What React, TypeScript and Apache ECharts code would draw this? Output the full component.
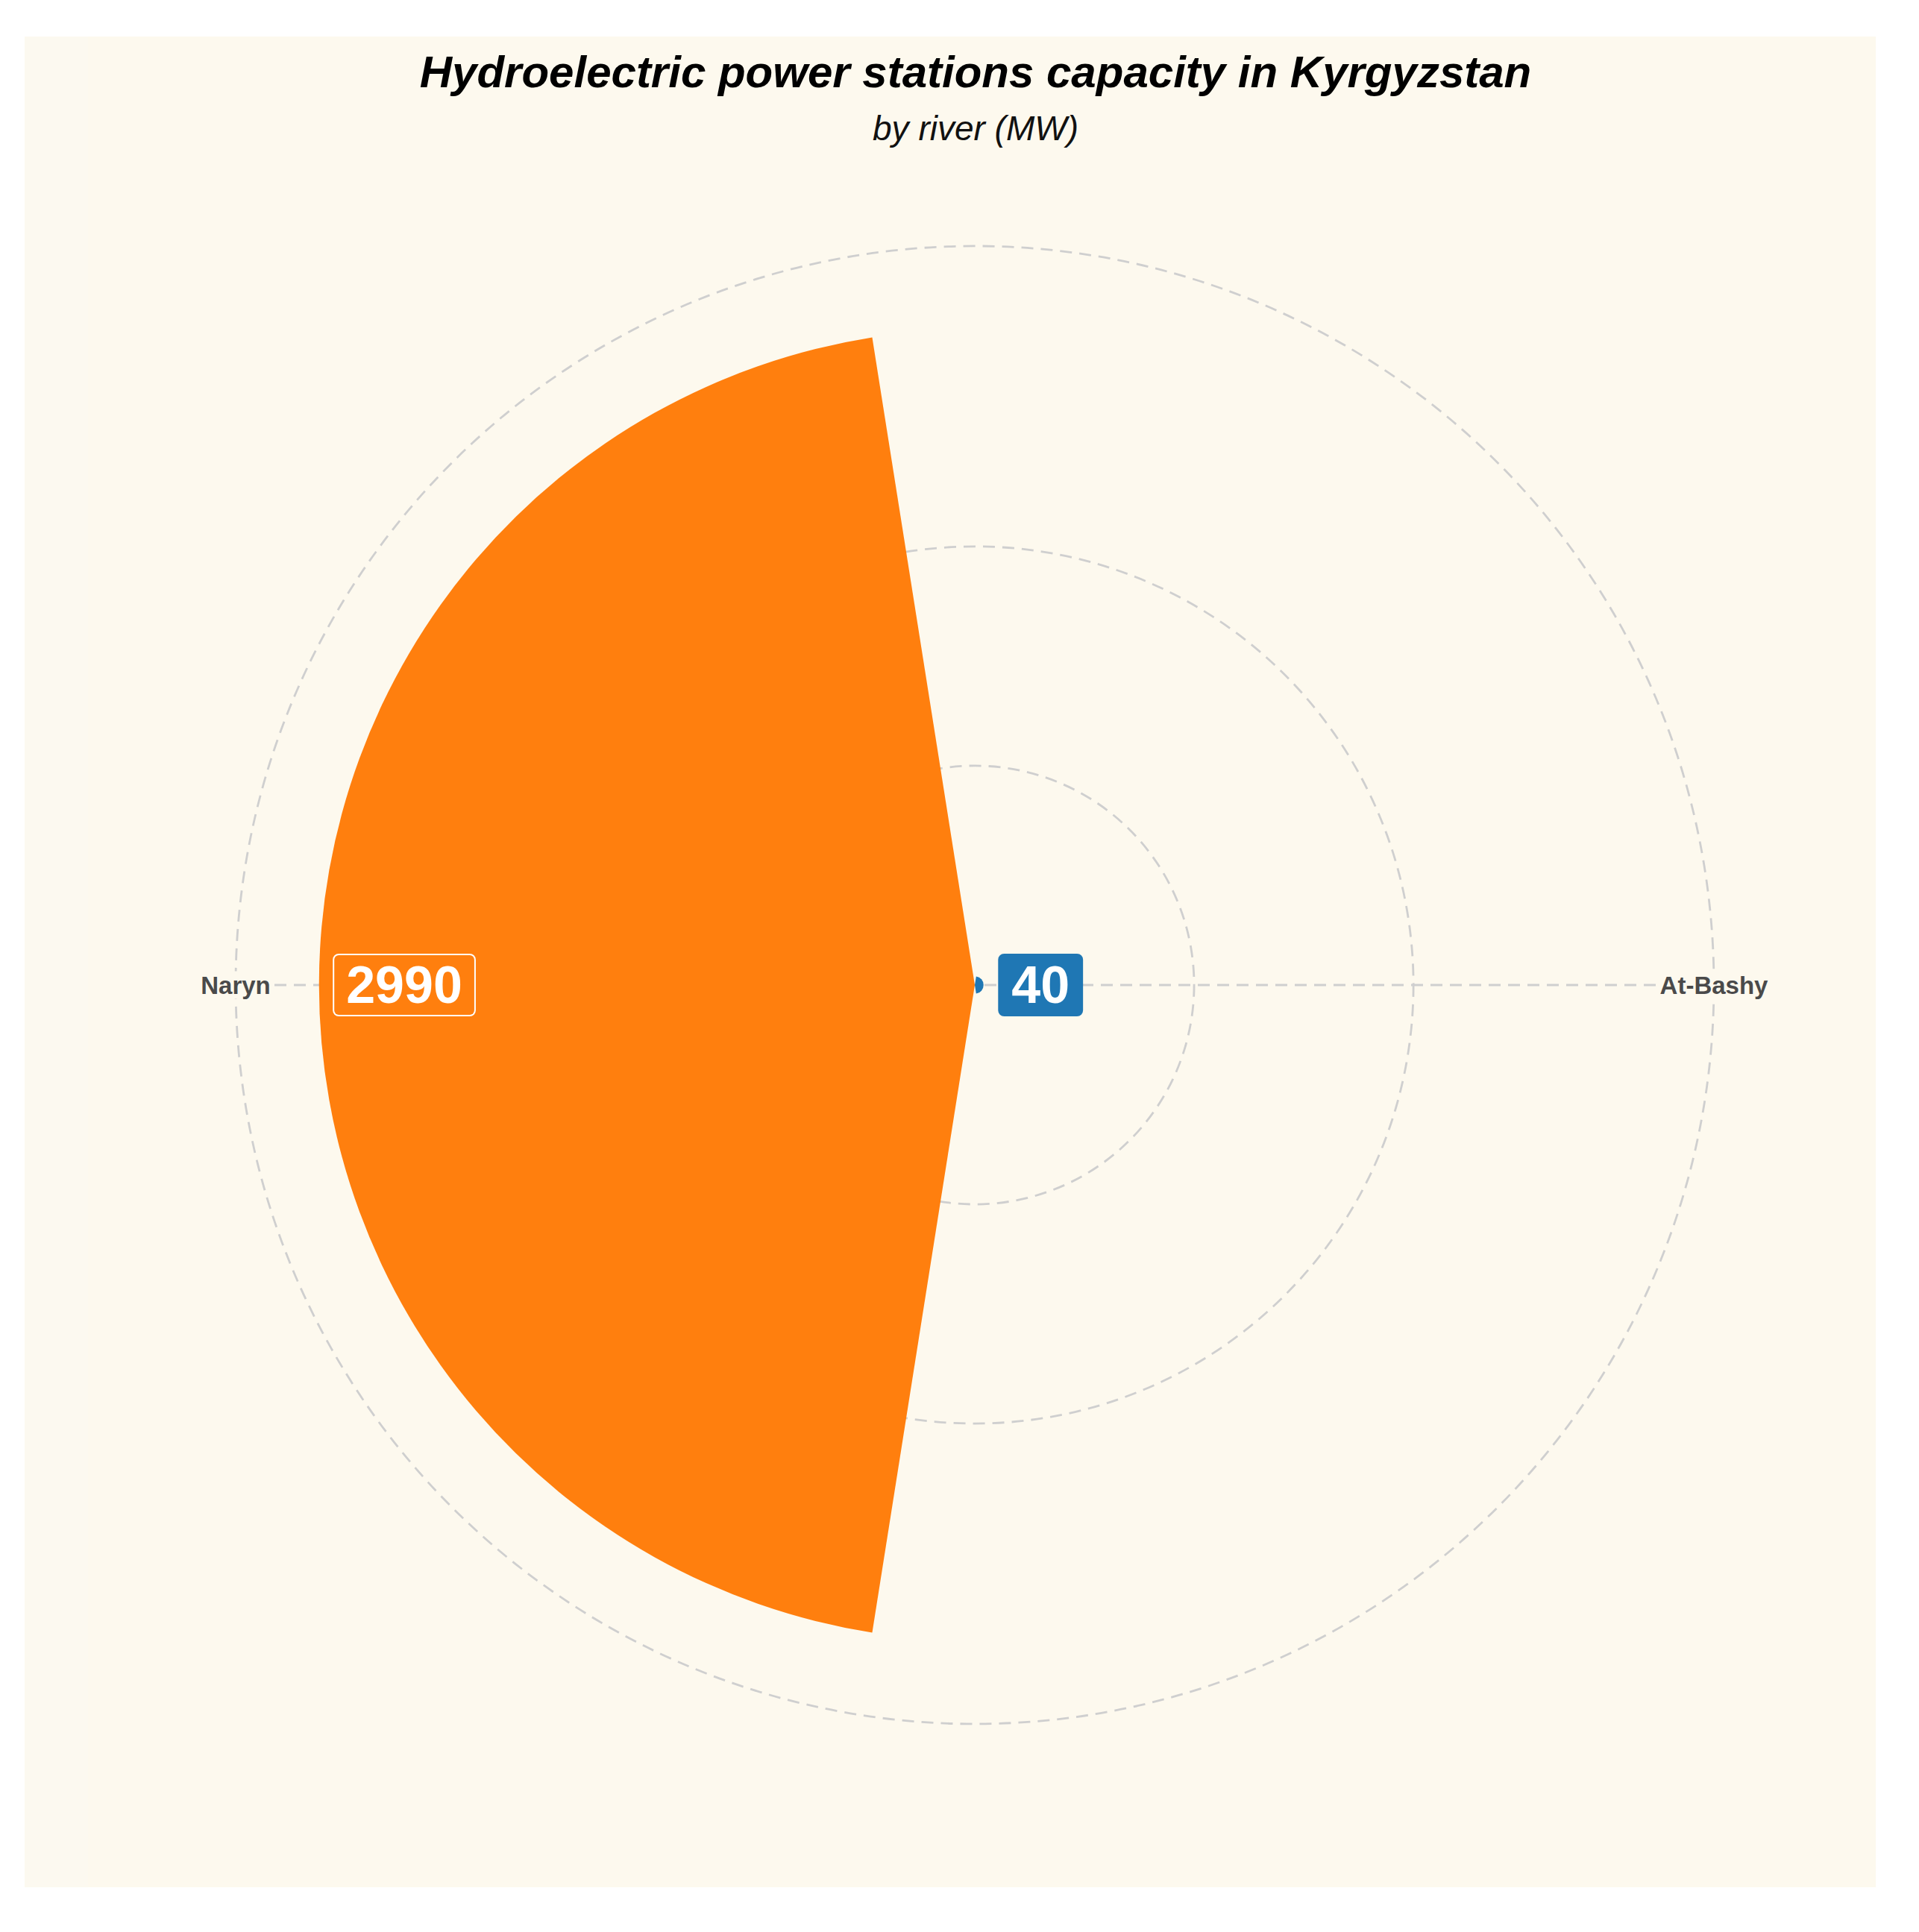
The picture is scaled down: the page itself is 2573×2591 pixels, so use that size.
import React, { useEffect, useRef } from "react";
import * as echarts from "echarts";

const categories = ["At-Bashy", "Naryn"];
const capacityMW = [40, 2990];
const barColors = ["#1f77b4", "#ff7f0e"];
const RADIUS_MAX = 3370;
const RING_STEP = 1000;

const TITLE = "Hydroelectric power stations capacity in Kyrgyzstan";
const SUBTITLE = "by river (MW)";

const FONT = '"Liberation Sans", Arial, Helvetica, sans-serif';
const GRID_COLOR = "#cfcfcf";
const GRID_DASH = [16, 10];
const GRID_WIDTH = 2.8;

export default function App() {
  const ref = useRef<HTMLDivElement>(null);
  useEffect(() => {
    if (!ref.current) return;
    const chart = echarts.init(ref.current, null, { renderer: "svg" });
    const center = [1307, 1321];
    const radius = 991;
    const labelR = (v: number) => (v > 1000 ? v * 0.87 : v + 260);
    const gridLine = { color: GRID_COLOR, width: GRID_WIDTH, type: GRID_DASH };
    const option: any = {
      animation: false,
      backgroundColor: "#ffffff",
      graphic: [
        {
          type: "rect",
          z: -100,
          silent: true,
          shape: { x: 33, y: 49, width: 2482, height: 2482 },
          style: { fill: "#fcf9f0" },
        },
        {
          type: "rect",
          z: -99,
          silent: true,
          shape: { x: 118, y: 49, width: 2397, height: 2482 },
          style: { fill: "#fdf9ee" },
        },
        {
          type: "text",
          x: 1308,
          y: 96,
          style: {
            text: TITLE,
            fill: "#000000",
            fontSize: 60,
            fontWeight: "bold",
            fontStyle: "italic",
            fontFamily: FONT,
            align: "center",
            verticalAlign: "middle",
          },
        },
        {
          type: "text",
          x: 1308,
          y: 172,
          style: {
            text: SUBTITLE,
            fill: "#111111",
            fontSize: 46,
            fontStyle: "italic",
            fontFamily: FONT,
            align: "center",
            verticalAlign: "middle",
          },
        },
      ],
      polar: [
        { center, radius },
        { center, radius },
      ],
      angleAxis: [
        {
          polarIndex: 0,
          type: "category",
          data: categories,
          boundaryGap: true,
          startAngle: 90,
          clockwise: true,
          axisLine: { show: false },
          axisTick: { show: false },
          axisLabel: { show: false },
          splitLine: { show: false },
          splitArea: { show: false },
        },
        {
          polarIndex: 1,
          type: "value",
          min: 0,
          max: 360,
          interval: 180,
          startAngle: 0,
          axisLine: { show: true, lineStyle: gridLine },
          axisTick: { show: false },
          axisLabel: { show: false },
          splitLine: { show: true, lineStyle: gridLine },
        },
      ],
      radiusAxis: [
        {
          polarIndex: 0,
          type: "value",
          min: 0,
          max: RADIUS_MAX,
          axisLine: { show: false },
          axisTick: { show: false },
          axisLabel: { show: false },
          splitLine: { show: false },
        },
        {
          polarIndex: 1,
          type: "value",
          min: 0,
          max: RADIUS_MAX,
          interval: RING_STEP,
          axisLine: { show: false },
          axisTick: { show: false },
          axisLabel: { show: false },
          splitLine: {
            show: true,
            lineStyle: {
              color: ["rgba(0,0,0,0)", GRID_COLOR, GRID_COLOR, "rgba(0,0,0,0)", "rgba(0,0,0,0)"],
              width: GRID_WIDTH,
              type: GRID_DASH,
            },
          },
        },
      ],
      series: [
        {
          type: "bar",
          coordinateSystem: "polar",
          polarIndex: 0,
          barCategoryGap: "10%",
          z: 2,
          data: capacityMW.map((v, i) => ({ value: v, itemStyle: { color: barColors[i] } })),
        },
        {
          type: "scatter",
          coordinateSystem: "polar",
          polarIndex: 0,
          silent: true,
          z: 5,
          symbolSize: 1,
          itemStyle: { color: "rgba(0,0,0,0)", opacity: 1 },
          data: categories.map((_, i) => [RADIUS_MAX, i]),
          label: {
            show: true,
            position: "inside",
            formatter: (p: any) => categories[p.dataIndex],
            color: "#4a4a4a",
            fontSize: 33,
            fontWeight: "bold",
            fontFamily: FONT,
            backgroundColor: "#fdf9ee",
            padding: [2, 2],
          },
        },
        {
          type: "scatter",
          coordinateSystem: "polar",
          polarIndex: 0,
          silent: true,
          z: 6,
          symbolSize: 1,
          itemStyle: { color: "rgba(0,0,0,0)", opacity: 1 },
          data: capacityMW.map((v, i) => ({
            value: [labelR(v), i],
            label: {
              backgroundColor: barColors[i],
              borderColor: v > 1000 ? "#ffffff" : barColors[i],
              borderWidth: 2,
            },
          })),
          label: {
            show: true,
            position: "inside",
            formatter: (p: any) => String(capacityMW[p.dataIndex]),
            color: "#ffffff",
            fontSize: 70,
            lineHeight: 72,
            fontWeight: "bold",
            fontFamily: FONT,
            borderRadius: 6,
            padding: [4, 16],
          },
        },
      ],
    };
    chart.setOption(option);
    return () => chart.dispose();
  }, []);
  return (
    <div
      ref={ref}
      style={{ position: "fixed", left: 0, top: 0, width: 2573, height: 2591 }}
    />
  );
}
